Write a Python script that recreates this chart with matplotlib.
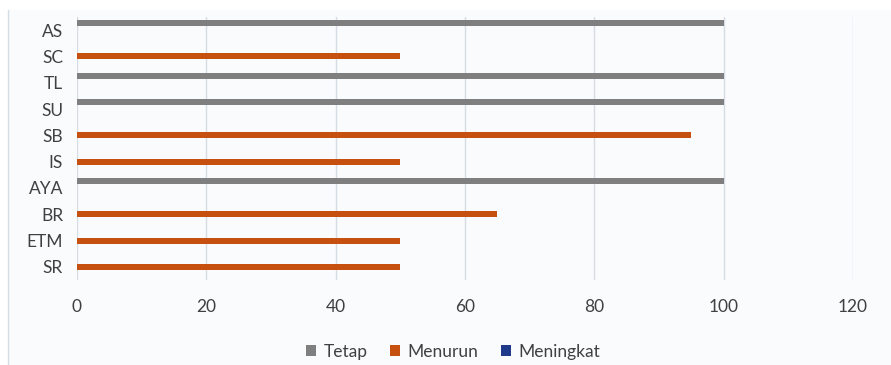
import numpy as np
import matplotlib.pyplot as plt
from matplotlib.patches import Rectangle
from matplotlib.lines import Line2D

categories = ["SR", "ETM", "BR", "AYA", "IS", "SB", "SU", "TL", "SC", "AS"]
tetap = [0, 0, 0, 100, 0, 0, 100, 100, 0, 100]
menurun = [50, 50, 65, 0, 50, 95, 0, 0, 50, 0]
meningkat = [0, 0, 0, 0, 0, 0, 0, 0, 0, 0]
xticks = [0, 20, 40, 60, 80, 100, 120]

plt.rcParams['font.family'] = ['Lato', 'DejaVu Sans']

fig = plt.figure(figsize=(8.91, 3.65), dpi=100)
fig.patch.set_facecolor("white")
# chart area background and left border
fig.patches.append(Rectangle((8 / 891, 0), 1, 1 - 10 / 365, transform=fig.transFigure,
                             facecolor="#f9fbfd", edgecolor="none", zorder=-10))
fig.lines.append(Line2D([8 / 891, 8 / 891], [0, 1 - 10 / 365], transform=fig.transFigure,
                        color="#d5dde6", lw=1, zorder=-9))

ax = fig.add_axes([77 / 891, 1 - 280 / 365, (853 - 77) / 891, (280 - 17) / 365])
ax.set_facecolor("none")

y = np.arange(len(categories))
off = 0.26
h = 0.23
ax.barh(y + off, tetap, height=h, color="#7f7f7f", label="Tetap", zorder=3)
ax.barh(y, menurun, height=h, color="#c5500f", label="Menurun", zorder=3)
ax.barh(y - off, meningkat, height=h, color="#1f3a8a", label="Meningkat", zorder=3)

ax.set_xlim(0, 120)
ax.set_ylim(-0.5, 9.5)
ax.set_xticks(xticks)
ax.set_yticks(y)
ax.set_yticklabels(categories)
ax.grid(axis="x", color="#d6dce4", lw=1, zorder=0)
for s in ax.spines.values():
    s.set_visible(False)
ax.tick_params(length=0, labelsize=12.5, labelcolor="#404040")
ax.tick_params(axis="x", pad=14)
ax.tick_params(axis="y", pad=10)

fig.legend(loc="center", bbox_to_anchor=(453 / 891, 1 - 352 / 365), ncol=3,
           frameon=False, fontsize=12.5, labelcolor="#404040", handlelength=0.6,
           handleheight=0.6, handletextpad=0.4, columnspacing=1.3)

fig.savefig("out.png", dpi=100)
